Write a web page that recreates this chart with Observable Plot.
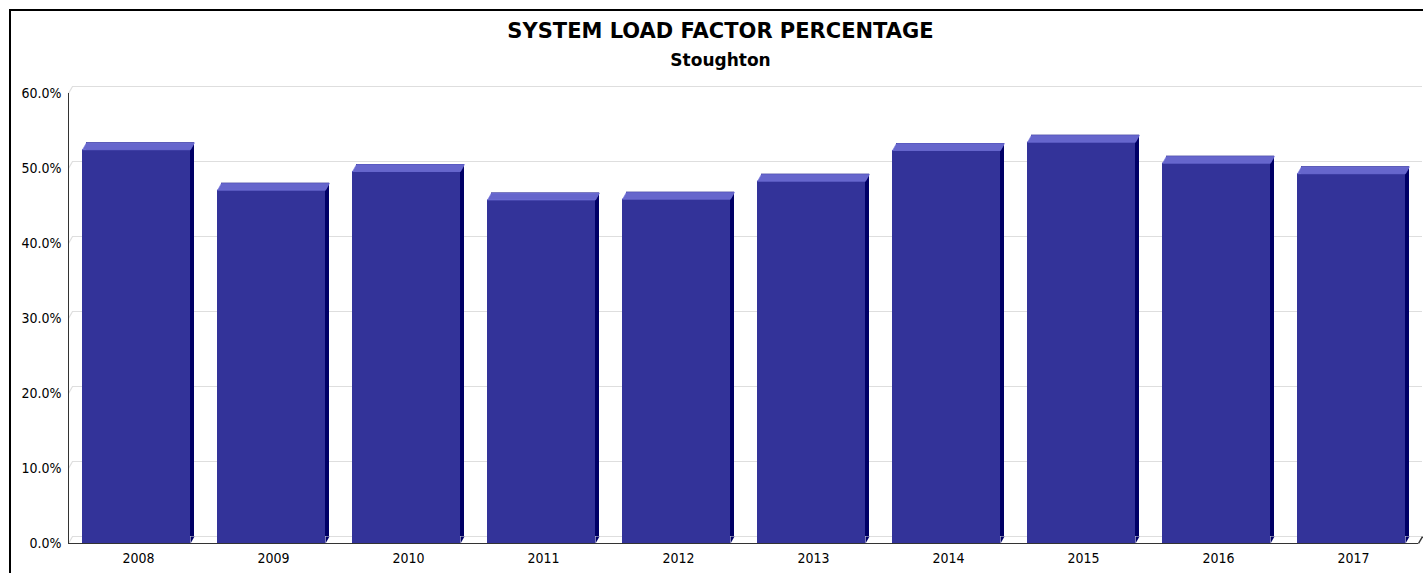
<!DOCTYPE html>
<html>
<head>
<meta charset="utf-8">
<script src="https://cdn.jsdelivr.net/npm/d3@7"></script>
<script src="https://cdn.jsdelivr.net/npm/@observablehq/plot@0.6"></script>
<style>
  html, body { margin: 0; padding: 0; background: #fff; width: 1423px; height: 573px; overflow: hidden; }
  #frame { position: absolute; left: 9px; top: 9px; width: 1440px; height: 600px;
           border-left: 2px solid #000; border-top: 2px solid #000; box-sizing: border-box; }
  #title { position: absolute; left: 9px; width: 1423px; top: 19px; text-align: center;
           font-family: "DejaVu Sans", sans-serif; font-weight: bold;
           font-size: 21px; color: #000; line-height: 24px; white-space: nowrap; }
  #subtitle { position: absolute; left: 9px; width: 1423px; top: 50px; text-align: center;
           font-family: "DejaVu Sans", sans-serif; font-weight: bold;
           font-size: 17px; color: #000; line-height: 20px; white-space: nowrap; }
  #chart { position: absolute; left: 0; top: 75px; }
</style>
</head>
<body>
<div id="frame"></div>
<div id="title">SYSTEM LOAD FACTOR PERCENTAGE</div>
<div id="subtitle">Stoughton</div>
<div id="chart"></div>
<script>
// ---- data ----
const years = ["2008", "2009", "2010", "2011", "2012", "2013", "2014", "2015", "2016", "2017"];
const loadFactor = [52.5, 47.1, 49.6, 45.8, 45.9, 48.3, 52.4, 53.5, 50.7, 49.3];
const yTicks = [0, 10, 20, 30, 40, 50, 60];

// ---- layout / style ----
const W = 1423, H = 498;
const mL = 68, mR = 5, mT = 18, mB = 30;
const depthX = 4, depthY = 7;
const step = (W - mL - mR) / years.length;
const barW = step * 0.8;

const data = years.map((year, i) => ({year, value: loadFactor[i]}));

const topCap = {draw(ctx) {
  const h = barW / 2;
  ctx.moveTo(-h, 0); ctx.lineTo(h, 0); ctx.lineTo(h + depthX, -depthY); ctx.lineTo(-h + depthX, -depthY); ctx.closePath();
}};
const baseCorner = {draw(ctx) {
  const h = barW / 2;
  ctx.moveTo(h, 0); ctx.lineTo(h + depthX, -depthY); ctx.lineTo(h, -depthY); ctx.closePath();
}};
const diag = {draw(ctx) { ctx.moveTo(0, 0); ctx.lineTo(depthX, -depthY); }};

const chart = Plot.plot({
  width: W, height: H,
  marginLeft: mL, marginRight: mR, marginTop: mT, marginBottom: mB,
  style: {fontFamily: "'DejaVu Sans Condensed', 'DejaVu Sans', sans-serif", fontSize: "14px", color: "#000", background: "transparent"},
  x: {domain: years, paddingInner: 0.2, paddingOuter: 0.1, align: 0.5, axis: null},
  y: {domain: [0, 60], axis: null},
  marks: [
    // back wall gridlines
    Plot.ruleY(yTicks, {stroke: "#dedede", strokeWidth: 1.2, dx: depthX, dy: -depthY}),
    Plot.dot(yTicks, {y: d => d, frameAnchor: "left", symbol: diag, stroke: "#dedede", strokeWidth: 1.2, fill: "none"}),
    // bar sides
    Plot.barY(data, {x: "year", y: "value", fill: "#000066", dx: depthX, dy: -depthY}),
    Plot.dot(data, {x: "year", y: () => 0, symbol: baseCorner, fill: "#000066", stroke: "none"}),
    // bar fronts
    Plot.barY(data, {x: "year", y: "value", fill: "#333399"}),
    // bar tops
    Plot.dot(data, {x: "year", y: "value", symbol: topCap, fill: "#6666cc", stroke: "#7777dd", strokeWidth: 0.6}),
    // axis lines
    Plot.ruleY([0], {stroke: "#333"}),
    Plot.dot([0], {y: d => d, frameAnchor: "right", symbol: diag, stroke: "#333", fill: "none"}),
    Plot.frame({anchor: "left", stroke: "#333"}),
    Plot.axisY({ticks: yTicks, tickFormat: d => d.toFixed(1) + "%", tickSize: 0, tickPadding: 7, label: null}),
    Plot.axisX({tickSize: 0, tickPadding: 10, dx: 2, label: null})
  ]
});
document.getElementById("chart").appendChild(chart);
</script>
</body>
</html>
